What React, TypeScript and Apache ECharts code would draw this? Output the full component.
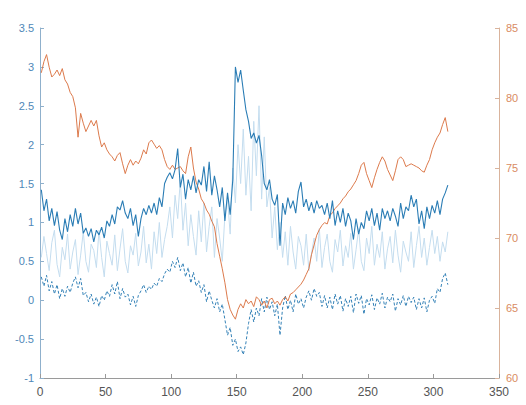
import React, { useEffect, useRef } from "react";
import * as echarts from "echarts";

// sample positions: x = 1, 3, 5, ... , 311
const X_START = 1;
const X_STEP = 2;

const xTicks = [0, 50, 100, 150, 200, 250, 300, 350];
const leftTicks = [-1, -0.5, 0, 0.5, 1, 1.5, 2, 2.5, 3, 3.5];
const rightTicks = [60, 65, 70, 75, 80, 85];

// solid dark-blue series (left axis)
const solidBlue = [
  1.42, 1.15, 1.3, 1.02, 1.18, 0.96, 1.14, 0.9, 0.78, 1.05,
  0.88, 1.1, 0.95, 1.18, 0.98, 1.12, 0.86, 0.93, 0.82, 0.92,
  0.75, 0.9, 0.84, 0.94, 0.8, 1.02, 0.95, 1.1, 0.98, 1.2,
  1.16, 1.28, 1.12, 1.05, 1.18, 0.96, 1.1, 0.82, 1.05, 1.18,
  1.1, 1.22, 1.12, 1.25, 1.1, 1.32, 1.2, 1.5, 1.58, 1.64,
  1.56, 1.68, 1.95, 1.45, 1.62, 1.3, 1.55, 1.42, 1.6, 1.38,
  1.55, 1.48, 1.72, 1.4, 1.78, 1.35, 1.6, 1.42, 1.2, 1.45,
  1.02, 1.38, 1.1, 1.55, 3.0, 2.8, 2.96, 2.7, 2.45, 2.3,
  2.08, 2.15, 2.02, 2.12, 1.86, 1.5, 1.42, 1.55, 1.3, 1.22,
  1.36, 0.7, 1.25, 1.1, 1.32, 1.18, 1.28, 1.12, 1.4, 1.52,
  1.2, 1.3, 1.15, 1.26, 1.12, 1.28, 1.18, 1.22, 1.1, 1.25,
  1.05, 1.28, 0.96, 1.15, 1.0, 1.18, 0.95, 1.12, 1.02, 0.78,
  1.05, 0.85, 1.0, 0.92, 1.15, 1.02, 1.18, 0.96, 1.12, 0.9,
  1.18, 1.05, 1.15, 1.02, 1.18, 1.08, 0.95, 1.25, 1.05, 1.2,
  1.15, 1.35, 1.2, 1.3, 0.98, 1.15, 0.92, 1.2, 1.05, 1.22,
  1.12, 1.28, 1.1, 1.3, 1.38, 1.48,
];

// pale blue series (left axis)
const paleBlue = [
  0.55, 0.82, 0.6, 0.38, 0.74, 0.9, 0.46, 0.3, 0.68, 0.52,
  0.85, 0.4, 0.62, 0.78, 0.33, 0.58, 0.88, 0.5, 0.36, 0.72,
  0.64, 0.42, 0.9, 0.55, 0.3, 0.76, 0.6, 0.45, 0.84, 0.38,
  0.66, 0.92, 0.5, 0.35, 0.7, 0.58, 0.86, 0.44, 0.62, 0.95,
  0.48, 0.72, 0.4, 0.88, 0.6, 1.0, 0.55, 0.78, 0.95, 1.2,
  0.8, 1.35, 1.05, 1.55, 0.9, 1.25, 0.7, 1.1, 0.82, 0.58,
  1.15, 0.75, 1.25, 0.62, 0.95, 1.2, 0.55, 1.05, 0.8, 0.5,
  1.1, 1.3, 0.85, 1.7, 1.25, 2.0, 1.5, 2.2, 1.35, 1.85,
  1.15, 2.3, 1.6, 2.5, 1.3, 2.1, 1.2, 1.45, 0.8, 1.2,
  0.65, 1.0, 0.55, 0.88, 0.45, 0.95, 0.62, 0.4, 0.82, 0.7,
  0.45, 0.85, 0.38, 0.6, 0.8, 0.5, 0.92, 0.42, 0.68, 0.85,
  0.5, 0.36, 0.78, 0.62, 0.9, 0.44, 0.7, 0.55, 0.86, 0.4,
  0.65, 0.92, 0.5, 0.38, 0.8, 0.6, 0.95, 0.45, 0.72, 0.55,
  0.88, 0.4, 0.66, 0.82, 0.48, 0.9, 0.58, 0.36, 0.76, 0.62,
  0.5, 0.88, 0.42, 0.7, 0.95, 0.55, 0.8, 0.45, 0.68, 0.9,
  0.6, 0.82, 0.5, 0.75, 0.62, 0.88,
];

// dashed dark-blue series (left axis)
const dashedBlue = [
  0.3, 0.18, 0.32, 0.12, 0.24, 0.08, 0.2, 0.02, 0.15, 0.05,
  0.18, 0.1, 0.22, 0.3, 0.16, 0.28, 0.06, 0.1, -0.02, 0.08,
  -0.05, 0.04, -0.08, 0.06, 0.0, 0.12, 0.05, 0.2, 0.08, 0.24,
  0.02, 0.15, 0.04, 0.08, -0.06, 0.05, -0.08, 0.06, 0.12, 0.2,
  0.1, 0.18, 0.14, 0.22, 0.18, 0.28, 0.24, 0.34, 0.4, 0.36,
  0.5, 0.42, 0.55, 0.38, 0.48, 0.3, 0.42, 0.22, 0.36, 0.18,
  0.25, 0.1, 0.2, -0.02, 0.12, 0.0, -0.1, 0.02, -0.15, -0.05,
  -0.25, -0.45, -0.35, -0.58, -0.5, -0.66, -0.6, -0.7, -0.55, -0.3,
  -0.12, -0.28, -0.1, -0.2, 0.02, -0.15, 0.04, -0.12, -0.02, -0.2,
  -0.05, -0.45, -0.1, 0.06, -0.12, 0.0, -0.15, 0.08, -0.05, 0.02,
  -0.1, 0.04, 0.12, 0.0, 0.15, 0.05, 0.1, -0.08, 0.06, -0.1,
  0.04, -0.12, 0.08, -0.05, 0.06, -0.14, 0.02, -0.08, 0.05, -0.16,
  0.08, -0.04, 0.06, -0.18, 0.02, -0.06, 0.07, -0.12, 0.03, -0.05,
  0.09, -0.1, 0.04, -0.02, 0.08, -0.14, 0.02, -0.06, 0.06, -0.08,
  0.05, -0.03, 0.04, -0.12, 0.02, -0.1, 0.03, -0.15, 0.0, 0.05,
  -0.04, 0.15, 0.1, 0.28, 0.35, 0.2,
];

// orange series (right axis)
const orange = [
  81.8, 82.6, 83.1, 82.2, 81.5, 81.7, 82.0, 81.6, 82.1, 81.3,
  81.0, 80.4, 80.1, 79.3, 77.2, 78.9, 78.2, 77.6, 78.0, 78.4,
  78.0, 78.4, 77.3, 76.5, 76.8, 76.3, 76.0, 75.8, 75.5, 75.9,
  76.1, 75.3, 74.6, 75.2, 75.6, 75.2, 75.5, 75.3, 75.7, 76.3,
  76.0, 76.8, 77.0, 76.7, 76.4, 76.6, 76.3, 75.6, 75.1, 74.9,
  75.2, 74.9, 75.0, 75.1, 74.8, 74.6, 75.8, 76.5, 75.0, 74.0,
  73.5, 72.8, 72.5, 72.0, 71.7, 71.2, 70.8, 69.6, 68.7, 67.8,
  66.8, 65.6, 64.9, 64.5, 64.2, 64.9, 65.3, 65.0, 65.6, 65.3,
  65.5, 65.1, 65.8, 65.6, 65.2, 65.5, 65.0, 65.6, 65.7, 65.3,
  65.5, 65.2, 65.6, 65.8, 65.5, 66.0, 66.1, 66.3, 66.5, 66.7,
  67.0, 67.4, 67.8, 68.8, 69.5, 70.2, 70.6, 70.9, 71.1, 71.0,
  71.6, 71.8, 72.1, 72.3, 72.5, 72.8, 73.0, 73.3, 73.5, 73.8,
  74.1, 74.6, 75.2, 75.4, 74.6, 74.1, 73.6, 74.3, 74.9, 75.4,
  75.8, 75.5, 74.9, 74.5, 74.1, 74.8, 75.6, 75.8, 75.6, 75.1,
  75.2, 75.3, 75.2, 75.1, 75.0, 74.8, 74.7, 75.2, 75.6, 76.3,
  76.8, 77.2, 77.5, 78.1, 78.6, 77.6,
];

const pairs = (vals: number[]) => vals.map((v, i) => [X_START + X_STEP * i, v]);

const FONT = "'Liberation Sans', Arial, sans-serif";

export default function App() {
  const ref = useRef<HTMLDivElement>(null);
  useEffect(() => {
    if (!ref.current) return;
    const chart = echarts.init(ref.current, null, { renderer: "svg" });
    const leftColor = "#4f88b8";
    const rightColor = "#d98b62";
    chart.setOption({
      animation: false,
      backgroundColor: "#ffffff",
      grid: { left: 40, right: 27, top: 28, bottom: 27, containLabel: false },
      xAxis: {
        type: "value",
        min: xTicks[0],
        max: xTicks[xTicks.length - 1],
        interval: 50,
        axisLine: { show: true, onZero: false, lineStyle: { color: "#9a9a9a", width: 1 } },
        axisTick: { show: true, inside: true, length: 4, lineStyle: { color: "#9a9a9a" } },
        axisLabel: { color: "#555", fontSize: 12, fontFamily: FONT, margin: 8 },
        splitLine: { show: false },
      },
      yAxis: [
        {
          type: "value",
          position: "left",
          min: leftTicks[0],
          max: leftTicks[leftTicks.length - 1],
          interval: 0.5,
          axisLine: { show: true, onZero: false, lineStyle: { color: "#8fb0cc", width: 1 } },
          axisTick: { show: true, inside: true, length: 4, lineStyle: { color: "#8fb0cc" } },
          axisLabel: { color: leftColor, fontSize: 11, fontFamily: FONT, margin: 6 },
          splitLine: { show: false },
        },
        {
          type: "value",
          position: "right",
          min: rightTicks[0],
          max: rightTicks[rightTicks.length - 1],
          interval: 5,
          axisLine: { show: true, onZero: false, lineStyle: { color: "#d9b39c", width: 1 } },
          axisTick: { show: true, inside: true, length: 4, lineStyle: { color: "#d9b39c" } },
          axisLabel: { color: rightColor, fontSize: 11, fontFamily: FONT, margin: 7 },
          splitLine: { show: false },
        },
      ],
      series: [
        {
          type: "line",
          yAxisIndex: 0,
          data: pairs(paleBlue),
          showSymbol: false,
          lineStyle: { color: "#c4ddef", width: 1 },
          z: 1,
        },
        {
          type: "line",
          yAxisIndex: 0,
          data: pairs(dashedBlue),
          showSymbol: false,
          lineStyle: { color: "#3582b7", width: 1, type: [3, 2] },
          z: 2,
        },
        {
          type: "line",
          yAxisIndex: 1,
          data: pairs(orange),
          showSymbol: false,
          lineStyle: { color: "#dc7a4c", width: 1 },
          z: 3,
        },
        {
          type: "line",
          yAxisIndex: 0,
          data: pairs(solidBlue),
          showSymbol: false,
          lineStyle: { color: "#2b7db5", width: 1.1 },
          z: 4,
        },
      ],
    });
    return () => chart.dispose();
  }, []);
  return (
    <div
      ref={ref}
      style={{ position: "absolute", left: 0, top: 0, width: 526, height: 405 }}
    />
  );
}
